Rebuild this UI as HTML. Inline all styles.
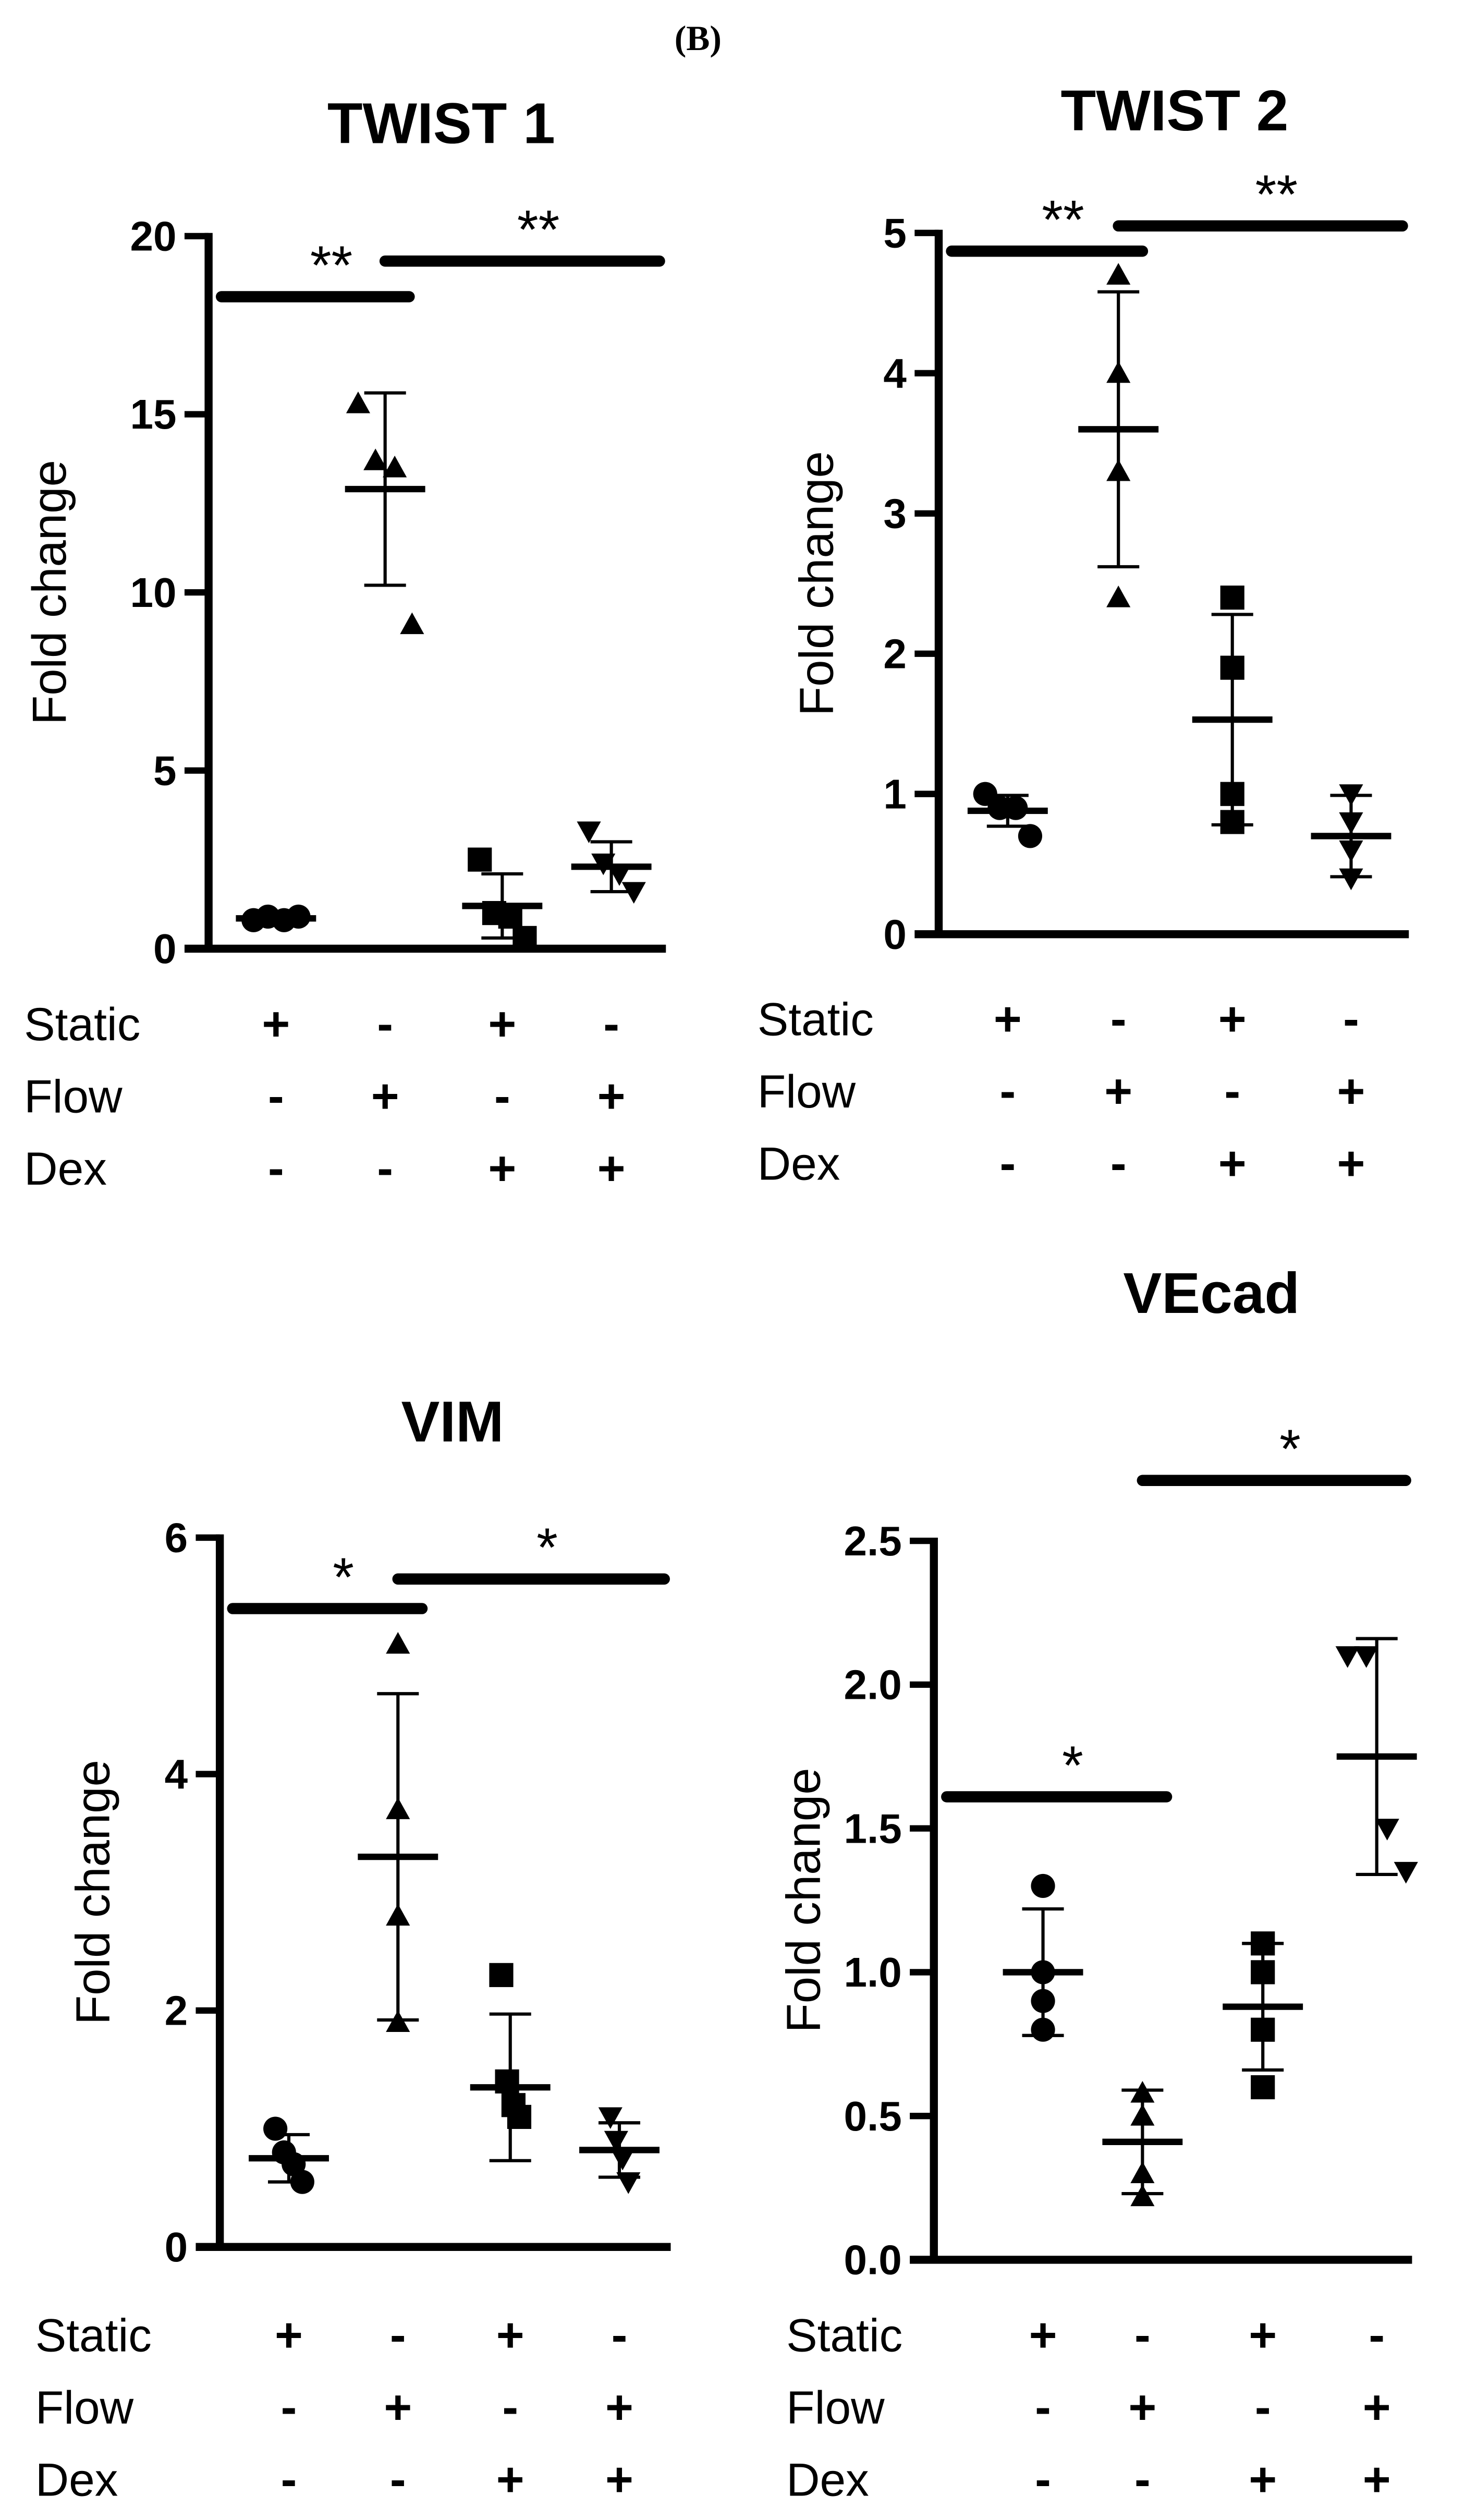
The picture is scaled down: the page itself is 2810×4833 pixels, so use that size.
<!DOCTYPE html>
<html><head><meta charset="utf-8">
<style>
html,body{margin:0;padding:0;background:#fff;}
svg{display:block;}
text{font-family:"Liberation Sans",Arial,sans-serif;fill:#000;}
</style></head>
<body>
<svg id="fig" width="2810" height="4833" viewBox="0 0 913 1570" xmlns="http://www.w3.org/2000/svg">
<text x="435" y="31" text-anchor="middle" style="font-family:'Liberation Serif',serif;font-weight:bold;font-size:22px">(B)</text>
</svg>
<script>
// ---- data ----
const groupNames = ["static", "flow", "static-dex", "flow-dex"];
const staticRow = ["+", "-", "+", "-"];
const flowRow = ["-", "+", "-", "+"];
const dexRow = ["-", "-", "+", "+"];

const twist1Points = [[0.8, 0.9, 0.8, 0.9], [15.3, 13.7, 13.5, 9.1], [2.5, 1.0, 0.9, 0.3], [3.3, 2.4, 2.1, 1.6]];
const twist1Mean = [0.85, 12.9, 1.2, 2.3];
const twist1SD = [0.05, 2.7, 0.9, 0.7];
const twist1Ticks = [0, 5, 10, 15, 20];
const twist1TickLabels = ["0", "5", "10", "15", "20"];

const twist2Points = [[1.0, 0.9, 0.9, 0.7], [4.7, 4.0, 3.3, 2.4], [2.4, 1.9, 1.0, 0.8], [1.0, 0.8, 0.6, 0.4]];
const twist2Mean = [0.88, 3.6, 1.53, 0.7];
const twist2SD = [0.11, 0.98, 0.75, 0.29];
const twist2Ticks = [0, 1, 2, 3, 4, 5];
const twist2TickLabels = ["0", "1", "2", "3", "4", "5"];

const vimPoints = [[1.0, 0.8, 0.7, 0.55], [5.1, 3.7, 2.8, 1.9], [2.3, 1.4, 1.2, 1.1], [1.1, 0.9, 0.75, 0.55]];
const vimMean = [0.75, 3.3, 1.35, 0.82];
const vimSD = [0.2, 1.38, 0.62, 0.23];
const vimTicks = [0, 2, 4, 6];
const vimTickLabels = ["0", "2", "4", "6"];

const vecadPoints = [[1.3, 1.0, 0.9, 0.8], [0.58, 0.5, 0.3, 0.22], [1.1, 1.0, 0.8, 0.6], [2.1, 2.1, 1.5, 1.35]];
const vecadMean = [1.0, 0.41, 0.88, 1.75];
const vecadSD = [0.22, 0.18, 0.22, 0.41];
const vecadTicks = [0, 0.5, 1.0, 1.5, 2.0, 2.5];
const vecadTickLabels = ["0.0", "0.5", "1.0", "1.5", "2.0", "2.5"];

const twist1Sig = [[0, 1, 18.3, "**"], [1, 3, 19.3, "**"]];
const twist2Sig = [[0, 1, 4.87, "**"], [1, 3, 5.05, "**"]];
const vimSig = [[0, 1, 5.4, "*"], [1, 3, 5.65, "*"]];
const vecadSig = [[0, 1, 1.61, "*"], [1, 3, 2.71, "*"]];

// ---- layout ----
const svg = document.getElementById('fig');
const NS = "http://www.w3.org/2000/svg";
function mk(tag, attrs, parent) {
  const e = document.createElementNS(NS, tag);
  for (const k in attrs) e.setAttribute(k, attrs[k]);
  (parent || svg).appendChild(e);
  return e;
}
const shapes = ["circle", "tri", "square", "dtri"];

function panel(cfg) {
  const g = mk('g', {});
  
  
  const ymax = cfg.ticks[cfg.ticks.length - 1];
  const Y = v => cfg.y0 - (v / ymax) * (cfg.y0 - cfg.yTop);
  const X = i => cfg.gx[i];
  const t = mk('text', {x: cfg.titleX, y: cfg.titleY, 'text-anchor': 'middle', 'font-size': 36, 'font-weight': 'bold'}, g);
  t.textContent = cfg.title;
  
  
  const yl = mk('text', {x: 0, y: 0, 'text-anchor': 'middle', 'font-size': 30, transform: `translate(${cfg.ylabX},${(cfg.y0 + cfg.yTop) / 2}) rotate(-90)`}, g);
  yl.textContent = "Fold change";
  
  
  const ya = mk('line', {x1: cfg.ax, x2: cfg.ax, y1: cfg.yTop - 2, y2: cfg.y0, stroke: '#000', 'stroke-width': 5}, g);
  
  
  const xa = mk('line', {x1: cfg.ax - 15, x2: cfg.xEnd, y1: cfg.y0, y2: cfg.y0, stroke: '#000', 'stroke-width': 5}, g);
  
  
  cfg.ticks.forEach((v, i) => {
    if (i > 0) {
      const tk = mk('line', {x1: cfg.ax - 15, x2: cfg.ax, y1: Y(v), y2: Y(v), stroke: '#000', 'stroke-width': 4}, g);
      
      
    }
    const tl = mk('text', {x: cfg.ax - 20, y: Y(v) + 9, 'text-anchor': 'end', 'font-size': 26, 'font-weight': 'bold'}, g);
    tl.textContent = cfg.tickLabels[i];
    
    
  });
  const offs = [-14, -5, 5, 14];
  cfg.points.forEach((arr, gi) => {
    arr.forEach((v, pi) => {
      const cx = X(gi) + offs[pi] * cfg.spread[gi], cy = Y(v), s = 7.5;
      let m;
      if (shapes[gi] === 'circle') m = mk('circle', {cx, cy, r: s}, g);
      else if (shapes[gi] === 'square') m = mk('rect', {x: cx - s, y: cy - s, width: 2 * s, height: 2 * s}, g);
      else if (shapes[gi] === 'tri') m = mk('polygon', {points: `${cx},${cy - s} ${cx - s},${cy + s * 0.8} ${cx + s},${cy + s * 0.8}`}, g);
      else m = mk('polygon', {points: `${cx},${cy + s} ${cx - s},${cy - s * 0.8} ${cx + s},${cy - s * 0.8}`}, g);
      
      
    });
    const mean = cfg.mean[gi], sd = cfg.sd[gi], cx = X(gi);
    const ml = mk('line', {x1: cx - 25, x2: cx + 25, y1: Y(mean), y2: Y(mean), stroke: '#000', 'stroke-width': 4}, g);
    
    
    const el = mk('path', {d: `M${cx},${Y(mean + sd)}V${Y(mean - sd)}M${cx - 13},${Y(mean + sd)}H${cx + 13}M${cx - 13},${Y(mean - sd)}H${cx + 13}`, stroke: '#000', 'stroke-width': 2, fill: 'none'}, g);
    
    
  });
  cfg.sig.forEach(s => {
    const x1 = s[0] === 0 ? cfg.ax + 8 : X(s[0]), x2 = s[1] === 3 ? cfg.xEnd - 4 : X(s[1]) + 15;
    const bl = mk('line', {x1, x2, y1: Y(s[2]), y2: Y(s[2]), stroke: '#000', 'stroke-width': 7, 'stroke-linecap': 'round'}, g);
    
    
    const st = mk('text', {x: (x1 + x2) / 2 + 10, y: Y(s[2]) - 8, 'text-anchor': 'middle', 'font-size': 34}, g);
    st.textContent = s[3];
    
    
  });
  const rows = [["Static", staticRow], ["Flow", flowRow], ["Dex", dexRow]];
  rows.forEach((r, ri) => {
    const ry = cfg.rowY + ri * 45;
    const lab = mk('text', {x: cfg.rowLabX, y: ry + 10, 'font-size': 29}, g);
    lab.textContent = r[0];
    
    
    r[1].forEach((sym, gi) => {
      const sx = mk('text', {x: X(gi), y: ry + 10, 'text-anchor': 'middle', 'font-size': 30, 'font-weight': 'bold'}, g);
      sx.textContent = sym;
      
      
    });
  });
}

panel({id: 'twist1', title: 'TWIST 1', titleX: 275, titleY: 89, ylabX: 41, ax: 130, xEnd: 415, y0: 591, yTop: 147,
  gx: [172, 240, 313, 381], spread: [1, 1.2, 1, 1], ticks: twist1Ticks, tickLabels: twist1TickLabels,
  points: twist1Points, mean: twist1Mean, sd: twist1SD, sig: twist1Sig, rowY: 638, rowLabX: 15});
panel({id: 'twist2', title: 'TWIST 2', titleX: 732, titleY: 81, ylabX: 519, ax: 585, xEnd: 878, y0: 582, yTop: 145,
  gx: [628, 697, 768, 842], spread: [1, 0, 0, 0], ticks: twist2Ticks, tickLabels: twist2TickLabels,
  points: twist2Points, mean: twist2Mean, sd: twist2SD, sig: twist2Sig, rowY: 635, rowLabX: 472});
panel({id: 'vim', title: 'VIM', titleX: 282, titleY: 898, ylabX: 68, ax: 137, xEnd: 418, y0: 1400, yTop: 958,
  gx: [180, 248, 318, 386], spread: [0.6, 0, 0.4, 0.4], ticks: vimTicks, tickLabels: vimTickLabels,
  points: vimPoints, mean: vimMean, sd: vimSD, sig: vimSig, rowY: 1455, rowLabX: 22});
panel({id: 'vecad', title: 'VEcad', titleX: 755, titleY: 818, ylabX: 511, ax: 582, xEnd: 880, y0: 1408, yTop: 960,
  gx: [650, 712, 787, 858], spread: [0, 0, 0, 1.3], ticks: vecadTicks, tickLabels: vecadTickLabels,
  points: vecadPoints, mean: vecadMean, sd: vecadSD, sig: vecadSig, rowY: 1455, rowLabX: 490});
</script>
</body></html>
